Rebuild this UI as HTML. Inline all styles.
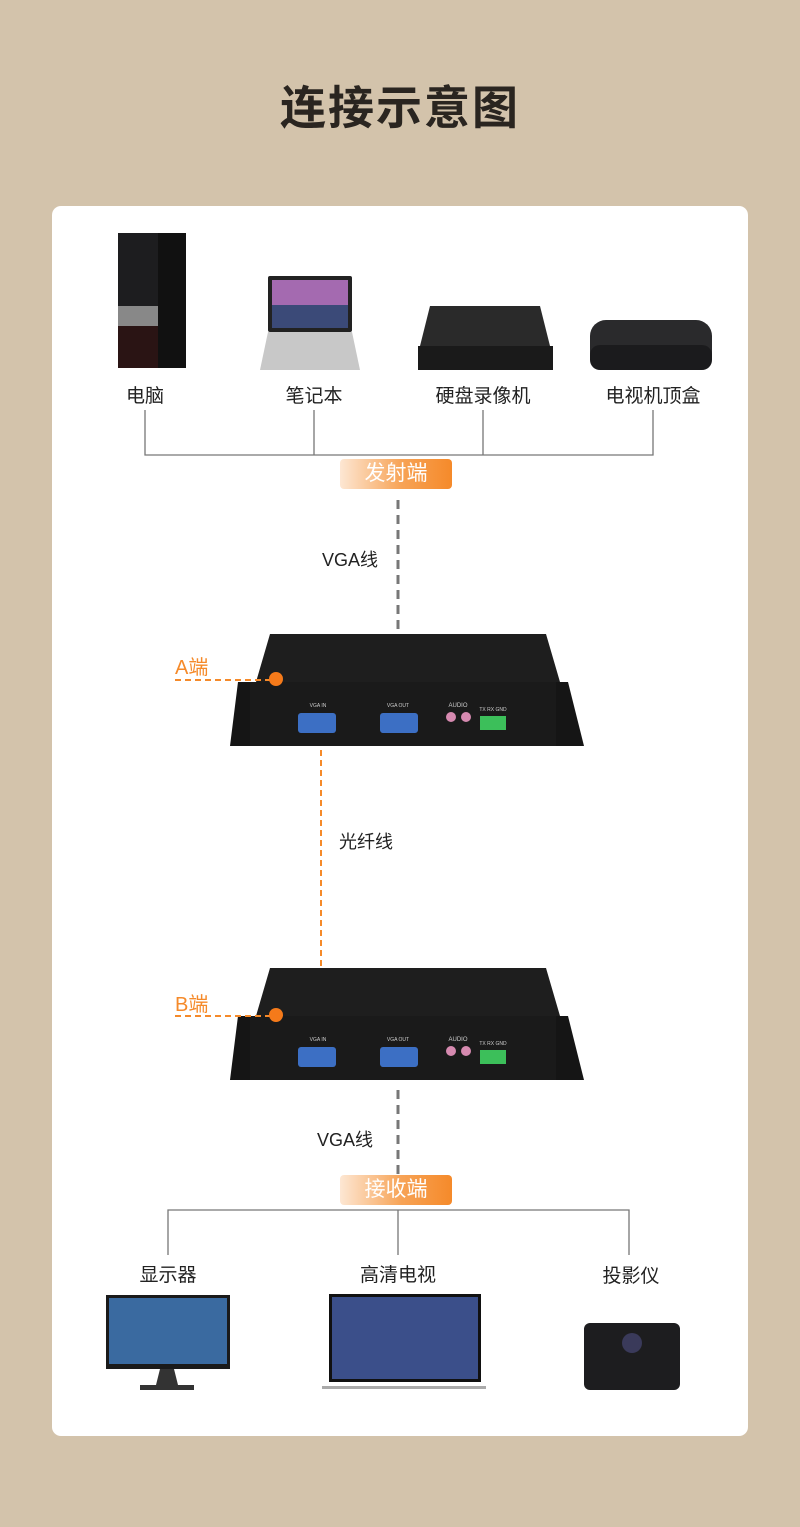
<!DOCTYPE html>
<html><head><meta charset="utf-8"><style>
body{margin:0;width:800px;height:1527px;background:#d3c3ab;font-family:"Liberation Sans","Noto Sans CJK SC",sans-serif;position:relative;overflow:hidden}
.a{position:absolute}
.t{position:absolute;font-size:19px;color:#222;white-space:nowrap;transform:translateX(-50%)}
.tag{position:absolute;width:112px;height:30px;border-radius:4px;background:linear-gradient(90deg,#fde7d3,#f7a356 55%,#f58a2a);color:#fff;font-size:21px;text-align:center;line-height:30px}
</style></head><body>
<div class="a" style="left:0;top:72px;width:800px;text-align:center;font-size:46px;font-weight:bold;color:#2a2520;letter-spacing:2px">连接示意图</div>
<div class="a" style="left:52px;top:206px;width:696px;height:1230px;background:#fff;border-radius:9px"></div>
<svg class="a" style="left:0;top:0" width="800" height="1527">
<!-- PC tower -->
<rect x="118" y="233" width="68" height="135" fill="#1d1d1f"/>
<rect x="118" y="306" width="40" height="20" fill="#888"/>
<path d="M118 326h40v42h-40z" fill="#2a1414"/>
<path d="M158 233h28v135h-28z" fill="#111"/>
<!-- laptop -->
<rect x="268" y="276" width="84" height="56" rx="2" fill="#222"/>
<rect x="272" y="280" width="76" height="48" fill="#a46ab0"/>
<rect x="272" y="305" width="76" height="23" fill="#3b4a78"/>
<path d="M268 332h84l8 38h-100z" fill="#c8c8c8"/>
<!-- DVR -->
<path d="M430 306h110l10 40h-130z" fill="#2a2a2a"/>
<rect x="418" y="346" width="135" height="24" fill="#1a1a1a"/>
<!-- STB -->
<rect x="590" y="320" width="122" height="50" rx="16" fill="#2a2a2c"/>
<rect x="590" y="345" width="122" height="25" rx="10" fill="#1b1b1d"/>
<g stroke="#777" stroke-width="1.3" fill="none">
<path d="M145 410v45h508v-45M314 410v45M483 410v45"/>
<path d="M168 1255v-45h461v45M398 1210v45"/>
</g>
<line x1="398" y1="500" x2="398" y2="630" stroke="#777" stroke-width="3" stroke-dasharray="9,6"/>
<line x1="398" y1="1090" x2="398" y2="1174" stroke="#777" stroke-width="3" stroke-dasharray="9,6"/>
<line x1="321" y1="740" x2="321" y2="1036" stroke="#f58a2a" stroke-width="2" stroke-dasharray="6,4"/>
<g id="dev">
<path d="M270 634h276l14 48h-304z" fill="#1e1e1e"/>
<path d="M238 682h330l16 64h-354z" fill="#151515"/>
<rect x="250" y="682" width="306" height="64" fill="#1a1a1a"/>
<rect x="298" y="713" width="38" height="20" rx="3" fill="#3c6fc4"/>
<rect x="380" y="713" width="38" height="20" rx="3" fill="#3c6fc4"/>
<circle cx="451" cy="717" r="5" fill="#d68ab0"/><circle cx="466" cy="717" r="5" fill="#d68ab0"/>
<rect x="480" y="716" width="26" height="14" fill="#3cbf5a"/>
<text x="318" y="707" fill="#ccc" font-size="5" text-anchor="middle">VGA IN</text>
<text x="398" y="707" fill="#ccc" font-size="5" text-anchor="middle">VGA OUT</text>
<text x="458" y="707" fill="#ccc" font-size="6" text-anchor="middle">AUDIO</text>
<text x="493" y="711" fill="#ccc" font-size="5" text-anchor="middle">TX RX GND</text>
</g>
<use href="#dev" y="334"/>
<line x1="175" y1="680" x2="270" y2="680" stroke="#f58a2a" stroke-width="2" stroke-dasharray="6,4"/>
<circle cx="276" cy="679" r="7" fill="#f57a1a"/>
<line x1="175" y1="1016" x2="270" y2="1016" stroke="#f58a2a" stroke-width="2" stroke-dasharray="6,4"/>
<circle cx="276" cy="1015" r="7" fill="#f57a1a"/>
<!-- monitor -->
<rect x="106" y="1295" width="124" height="74" fill="#1a1a1a"/>
<rect x="109" y="1298" width="118" height="66" fill="#3a6aa0"/>
<path d="M160 1369h14l4 16h-22z" fill="#333"/><rect x="140" y="1385" width="54" height="5" fill="#333"/>
<!-- TV -->
<rect x="329" y="1294" width="152" height="88" fill="#111"/>
<rect x="332" y="1297" width="146" height="82" fill="#3b4f8a"/>
<rect x="322" y="1386" width="164" height="3" fill="#aaa"/>
<!-- projector -->
<rect x="584" y="1323" width="96" height="67" rx="6" fill="#1d1d1f"/>
<circle cx="632" cy="1343" r="10" fill="#3a3a5a"/>
</svg>
<div class="t" style="left:145px;top:381px">电脑</div>
<div class="t" style="left:314px;top:381px">笔记本</div>
<div class="t" style="left:483px;top:381px">硬盘录像机</div>
<div class="t" style="left:653px;top:381px">电视机顶盒</div>
<div class="tag" style="left:340px;top:459px">发射端</div>
<div class="t" style="left:350px;top:546px;font-size:18px">VGA线</div>
<div class="a" style="left:175px;top:651px;font-size:20px;color:#f58a2a">A端</div>
<div class="t" style="left:366px;top:828px;font-size:18px">光纤线</div>
<div class="a" style="left:175px;top:988px;font-size:20px;color:#f58a2a">B端</div>
<div class="t" style="left:345px;top:1126px;font-size:18px">VGA线</div>
<div class="tag" style="left:340px;top:1175px">接收端</div>
<div class="t" style="left:168px;top:1260px">显示器</div>
<div class="t" style="left:398px;top:1260px">高清电视</div>
<div class="t" style="left:631px;top:1261px">投影仪</div>
</body></html>
